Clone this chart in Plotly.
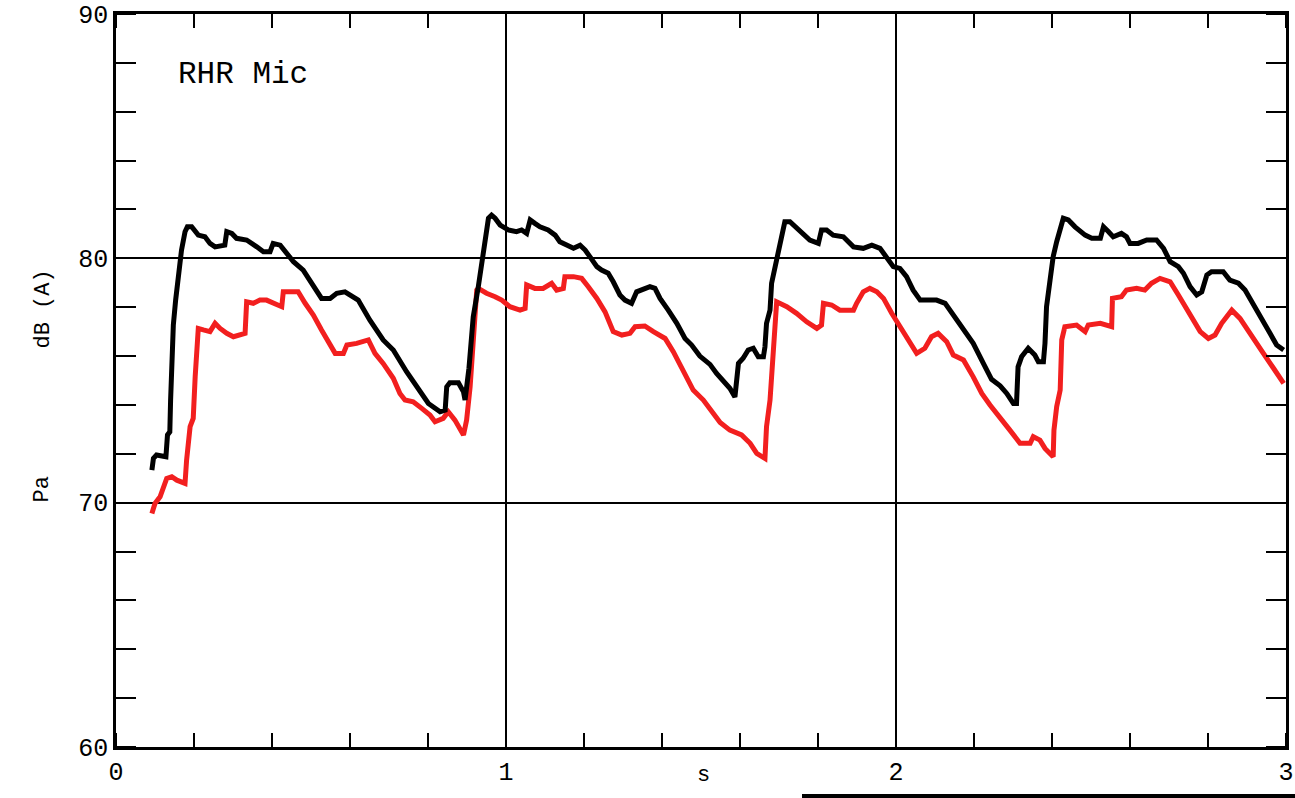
import plotly.graph_objects as go

# ---- data (time in s, level in dB(A)) ----
black_t = [0.092, 0.096, 0.104, 0.128, 0.132, 0.138, 0.140, 0.143, 0.147, 0.153, 0.160, 0.168, 0.177, 0.183, 0.194,
           0.211, 0.228, 0.241, 0.254, 0.279, 0.284, 0.297, 0.309, 0.335, 0.361, 0.378, 0.395, 0.403, 0.421, 0.438,
           0.455, 0.480, 0.502, 0.527, 0.549, 0.566, 0.587, 0.621, 0.651, 0.685, 0.711, 0.745, 0.801, 0.831, 0.844,
           0.848, 0.856, 0.878, 0.891, 0.895, 0.905, 0.916, 0.929, 0.938, 0.946, 0.955, 0.963, 0.972, 0.985, 1.006,
           1.027, 1.040, 1.053, 1.062, 1.074, 1.087, 1.108, 1.126, 1.138, 1.156, 1.173, 1.190, 1.203, 1.215, 1.233,
           1.245, 1.262, 1.275, 1.292, 1.305, 1.322, 1.335, 1.348, 1.369, 1.382, 1.395, 1.416, 1.438, 1.459, 1.476,
           1.497, 1.523, 1.540, 1.557, 1.574, 1.587, 1.596, 1.608, 1.621, 1.634, 1.647, 1.660, 1.664, 1.668, 1.677,
           1.681, 1.690, 1.698, 1.707, 1.715, 1.728, 1.745, 1.762, 1.779, 1.801, 1.809, 1.822, 1.839, 1.865, 1.891,
           1.916, 1.938, 1.959, 1.976, 1.993, 2.010, 2.027, 2.044, 2.062, 2.083, 2.104, 2.126, 2.147, 2.173, 2.198,
           2.224, 2.245, 2.267, 2.284, 2.301, 2.309, 2.313, 2.322, 2.339, 2.356, 2.365, 2.378, 2.382, 2.386, 2.395,
           2.403, 2.412, 2.421, 2.429, 2.442, 2.459, 2.485, 2.502, 2.524, 2.532, 2.545, 2.557, 2.578, 2.591, 2.600,
           2.621, 2.643, 2.668, 2.686, 2.703, 2.724, 2.737, 2.754, 2.771, 2.784, 2.797, 2.809, 2.839, 2.856, 2.878,
           2.895, 2.917, 2.938, 2.959, 2.976, 2.994]
black_db = [71.33, 71.81, 71.95, 71.88, 72.77, 72.90, 74.20, 76.25, 77.27, 78.30, 79.39, 80.34, 81.09, 81.29, 81.29,
            80.95, 80.88, 80.61, 80.47, 80.54, 81.09, 81.02, 80.82, 80.75, 80.47, 80.27, 80.27, 80.61, 80.54, 80.20,
            79.86, 79.52, 78.98, 78.36, 78.36, 78.57, 78.63, 78.29, 77.47, 76.66, 76.25, 75.36, 74.06, 73.72, 73.79,
            74.74, 74.91, 74.91, 74.54, 74.20, 75.50, 77.61, 78.84, 79.86, 80.88, 81.64, 81.77, 81.64, 81.36, 81.16,
            81.09, 81.16, 81.02, 81.57, 81.43, 81.29, 81.16, 80.95, 80.68, 80.54, 80.41, 80.54, 80.34, 80.07, 79.66,
            79.52, 79.39, 79.04, 78.50, 78.29, 78.16, 78.63, 78.70, 78.84, 78.77, 78.36, 77.88, 77.34, 76.72, 76.45,
            76.00, 75.66, 75.29, 75.02, 74.68, 74.33, 75.70, 75.91, 76.25, 76.32, 75.97, 75.97, 76.38, 77.34, 77.88,
            78.98, 79.66, 80.27, 81.09, 81.50, 81.50, 81.23, 80.95, 80.75, 80.61, 81.16, 81.16, 80.95, 80.88, 80.47,
            80.41, 80.54, 80.41, 80.07, 79.66, 79.59, 79.25, 78.70, 78.29, 78.29, 78.29, 78.16, 77.68, 77.13, 76.52,
            75.70, 75.05, 74.78, 74.47, 74.06, 74.06, 75.56, 75.97, 76.32, 76.04, 75.77, 75.77, 76.52, 78.02, 79.11,
            80.07, 80.68, 81.29, 81.64, 81.57, 81.29, 80.95, 80.82, 80.82, 81.29, 81.09, 80.88, 81.02, 80.88, 80.61,
            80.61, 80.75, 80.75, 80.41, 79.86, 79.66, 79.39, 78.84, 78.50, 78.63, 79.32, 79.45, 79.45, 79.11, 78.98,
            78.70, 78.09, 77.61, 76.93, 76.45, 76.25]

red_t = [0.092, 0.100, 0.113, 0.121, 0.130, 0.143, 0.156, 0.177, 0.181, 0.190, 0.198, 0.203, 0.207, 0.211, 0.224,
         0.241, 0.254, 0.267, 0.284, 0.301, 0.331, 0.335, 0.352, 0.369, 0.386, 0.403, 0.425, 0.429, 0.446, 0.467,
         0.485, 0.506, 0.527, 0.549, 0.562, 0.583, 0.592, 0.617, 0.647, 0.664, 0.685, 0.711, 0.728, 0.741, 0.762,
         0.784, 0.805, 0.818, 0.839, 0.852, 0.869, 0.891, 0.899, 0.908, 0.916, 0.925, 0.929, 0.950, 0.972, 0.989,
         1.010, 1.036, 1.049, 1.053, 1.074, 1.095, 1.117, 1.130, 1.147, 1.151, 1.173, 1.194, 1.211, 1.233, 1.254,
         1.275, 1.297, 1.318, 1.331, 1.356, 1.378, 1.408, 1.429, 1.454, 1.480, 1.506, 1.532, 1.549, 1.574, 1.604,
         1.626, 1.643, 1.664, 1.668, 1.677, 1.681, 1.690, 1.694, 1.720, 1.745, 1.771, 1.797, 1.809, 1.814, 1.835,
         1.856, 1.891, 1.899, 1.916, 1.933, 1.951, 1.968, 1.989, 2.010, 2.036, 2.053, 2.074, 2.091, 2.108, 2.130,
         2.147, 2.173, 2.198, 2.220, 2.241, 2.267, 2.292, 2.318, 2.344, 2.352, 2.369, 2.382, 2.403, 2.405, 2.412,
         2.421, 2.425, 2.433, 2.463, 2.485, 2.493, 2.524, 2.553, 2.555, 2.578, 2.591, 2.617, 2.638, 2.655, 2.677,
         2.703, 2.724, 2.754, 2.780, 2.801, 2.818, 2.835, 2.861, 2.882, 2.912, 2.942, 2.968, 2.994]
red_db = [69.56, 69.97, 70.24, 70.65, 70.99, 71.06, 70.92, 70.79, 71.74, 73.11, 73.45, 75.15, 75.97, 77.13, 77.07,
          77.00, 77.34, 77.13, 76.93, 76.79, 76.93, 78.22, 78.16, 78.29, 78.29, 78.16, 78.02, 78.63, 78.63, 78.63,
          78.16, 77.68, 77.07, 76.52, 76.11, 76.11, 76.45, 76.52, 76.66, 76.11, 75.70, 75.09, 74.47, 74.20, 74.13,
          73.86, 73.59, 73.31, 73.45, 73.72, 73.38, 72.77, 73.38, 74.74, 76.52, 78.70, 78.77, 78.57, 78.43, 78.29,
          78.02, 77.88, 77.95, 78.91, 78.77, 78.77, 78.98, 78.70, 78.77, 79.25, 79.25, 79.18, 78.84, 78.36, 77.81,
          77.00, 76.86, 76.93, 77.20, 77.23, 77.00, 76.72, 76.18, 75.43, 74.61, 74.20, 73.65, 73.28, 72.97, 72.77,
          72.43, 72.02, 71.81, 73.11, 74.20, 75.02, 77.07, 78.22, 78.02, 77.75, 77.40, 77.13, 77.27, 78.16, 78.09,
          77.88, 77.88, 78.16, 78.63, 78.77, 78.63, 78.36, 77.75, 77.20, 76.52, 76.11, 76.32, 76.79, 76.93, 76.59,
          76.04, 75.84, 75.15, 74.47, 74.00, 73.50, 72.97, 72.43, 72.43, 72.70, 72.56, 72.22, 71.88, 72.97, 73.93,
          74.61, 76.66, 77.20, 77.27, 77.00, 77.27, 77.34, 77.20, 78.36, 78.43, 78.70, 78.77, 78.70, 78.98, 79.18,
          79.04, 78.50, 77.68, 77.00, 76.72, 76.86, 77.34, 77.88, 77.54, 76.86, 76.11, 75.50, 74.88]

x_tickvals = [0, 1, 2, 3]
x_ticktext = ["0", "1", "2", "3"]
y_tickvals = [60, 70, 80, 90]
y_ticktext = ["60", "70", "80", "90"]

MONO = "Liberation Mono, Courier New, monospace"

fig = go.Figure()
fig.add_trace(go.Scatter(x=red_t, y=red_db, mode="lines",
                         line=dict(color="#f21f1f", width=5), showlegend=False))
fig.add_trace(go.Scatter(x=black_t, y=black_db, mode="lines",
                         line=dict(color="#000000", width=5), showlegend=False))

fig.update_layout(
    width=1295, height=798,
    margin=dict(l=116, r=9, t=14, b=51, autoexpand=False),
    paper_bgcolor="white", plot_bgcolor="white",
    font=dict(family=MONO, color="black"),
    xaxis=dict(range=[0, 3], tickmode="array", tickvals=x_tickvals, ticktext=x_ticktext,
               ticks="", showgrid=True, gridcolor="black", gridwidth=1.5,
               showline=True, linecolor="black", linewidth=2.5, mirror="ticks",
               zeroline=False, automargin=False, tickfont=dict(family=MONO, size=25),
               minor=dict(dtick=0.2, tick0=0, ticks="inside", ticklen=14, tickwidth=2,
                          tickcolor="black", showgrid=False)),
    yaxis=dict(range=[60, 90], tickmode="array", tickvals=y_tickvals, ticktext=y_ticktext,
               ticks="", showgrid=True, gridcolor="black", gridwidth=1.5,
               showline=True, linecolor="black", linewidth=2.5, mirror="ticks",
               zeroline=False, automargin=False, tickfont=dict(family=MONO, size=25),
               minor=dict(dtick=2, tick0=60, ticks="inside", ticklen=20, tickwidth=2,
                          tickcolor="black", showgrid=False)),
)

fig.add_annotation(x=0.154, y=87.54, xref="x", yref="y", text="RHR Mic", showarrow=False,
                   xanchor="left", yanchor="middle", font=dict(family=MONO, size=31, color="black"))
fig.add_annotation(x=28, y=309, xref="paper", yref="paper", text="dB (A)", showarrow=False,
                   textangle=-90, font=dict(family=MONO, size=22, color="black"))
fig.add_annotation(x=27, y=505, xref="paper", yref="paper", text="Pa", showarrow=False,
                   textangle=-90, font=dict(family=MONO, size=22, color="black"))
fig.add_annotation(x=703, y=790, xref="paper", yref="paper", text="s", showarrow=False,
                   font=dict(family=MONO, size=22, color="black"))

# convert pixel-ish placement for annotations to paper coords
L, R, T, B = 116, 1286, 14, 747
for a in fig.layout.annotations:
    if a.xref == "paper":
        a.x = (a.x - L) / (R - L)
        a.y = (B - a.y) / (B - T)

# black bar along the bottom edge of the picture
fig.add_shape(type="rect", xref="paper", yref="paper",
              x0=(802 - L) / (R - L), x1=(1296 - L) / (R - L),
              y0=(B - 798) / (B - T), y1=(B - 794) / (B - T),
              fillcolor="black", line=dict(width=0), layer="above")

fig.write_html("out.html")
